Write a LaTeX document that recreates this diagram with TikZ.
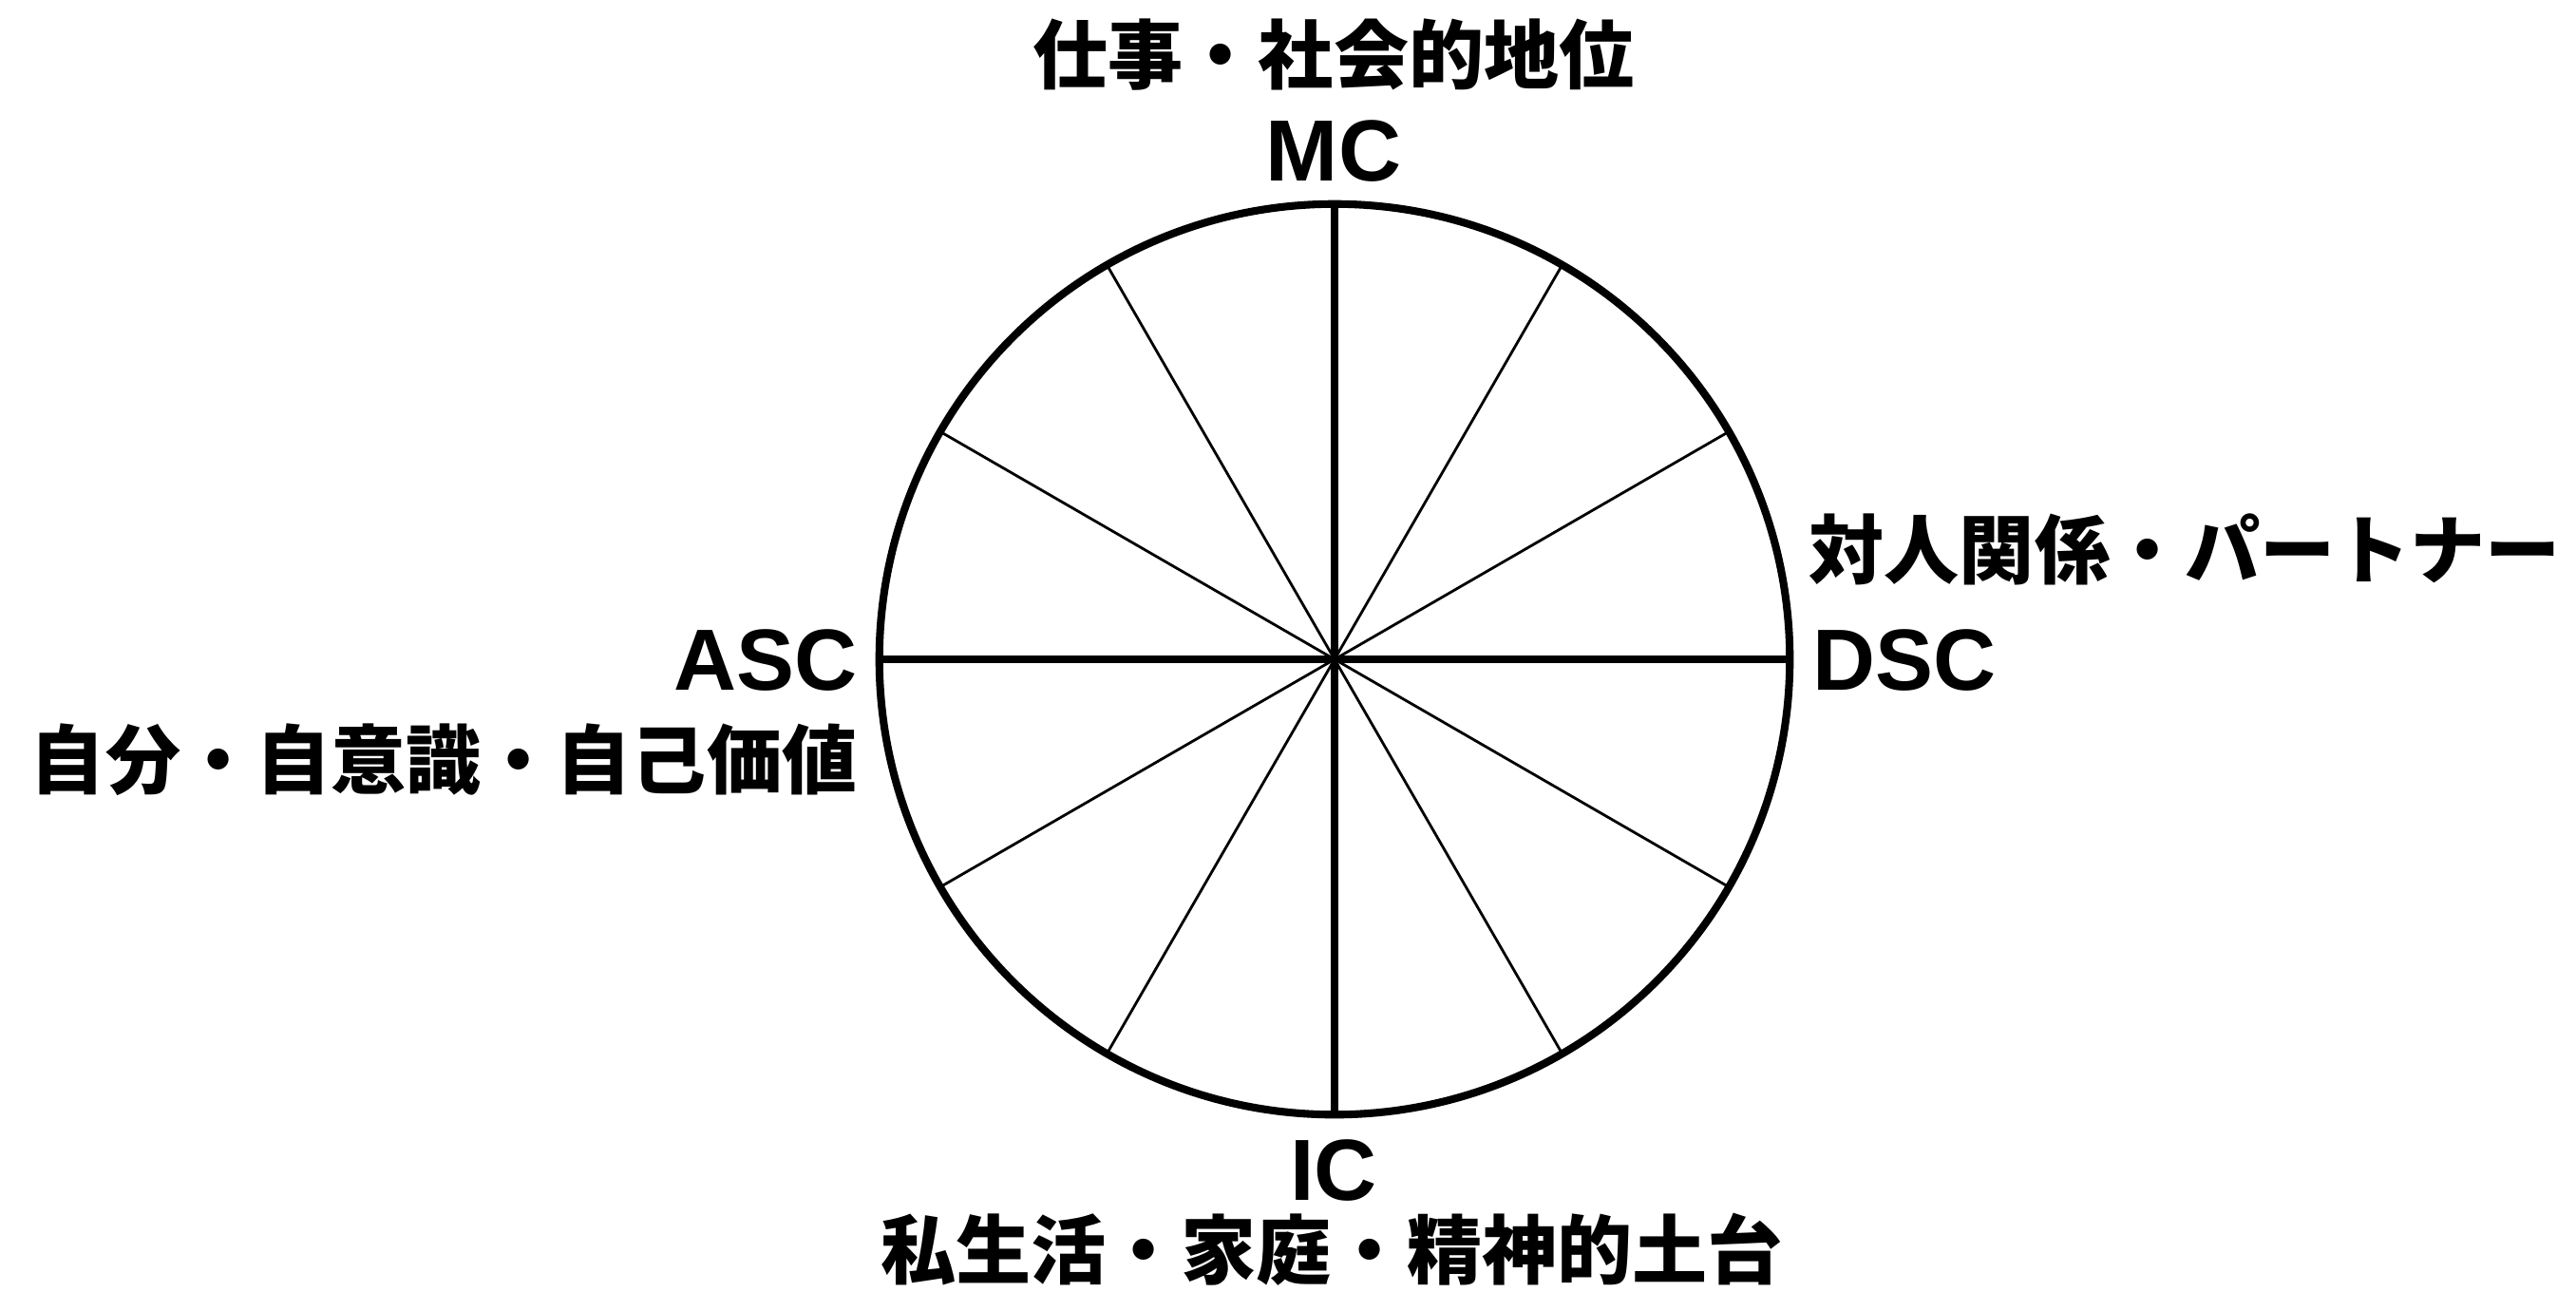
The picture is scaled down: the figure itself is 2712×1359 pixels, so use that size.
\documentclass[tikz,border=0pt]{standalone}
\usepackage{fontspec}
\setmainfont{Liberation Sans}
\newfontfamily\cjk{Noto Sans CJK JP}
\begin{document}
\begin{tikzpicture}[x=0.01cm,y=-0.01cm,
  lat/.style={inner sep=0pt, font=\fontsize{26pt}{31pt}\selectfont\bfseries},
  jp/.style={inner sep=0pt, font=\fontsize{22.5pt}{27pt}\selectfont\cjk\bfseries},
  spokethick/.style={line width=2.4pt},
  spokethin/.style={line width=0.8pt}]
\useasboundingbox[fill=white] (0,0) rectangle (2712,1359);
\node[circle, draw, line width=2.3pt, minimum size=9.58cm, inner sep=0pt, outer sep=0pt] (wheel) at (1405,694) {};
\coordinate (c) at (wheel.center);
\foreach \a in {30,60,120,150,210,240,300,330} {
  \draw[spokethin] (c) -- (wheel.\a);
}
\foreach \a in {0,90,180,270} {
  \draw[spokethick] (c) -- (wheel.\a);
}
\node[lat, anchor=base] (mc) at (1404,190) {MC};
\node[jp, anchor=center] (mct) at (1404,58) {仕事・社会的地位};
\node[lat, anchor=base east] (asc) at (903,726) {ASC};
\node[jp, anchor=east] (asct) at (903,800) {自分・自意識・自己価値};
\node[lat, anchor=base west] (dsc) at (1908,726) {DSC};
\node[jp, anchor=west] (dsct) at (1904,578) {対人関係・パートナー};
\node[lat, anchor=base] (ic) at (1404,1263) {IC};
\node[jp, anchor=center] (ict) at (1402,1315) {私生活・家庭・精神的土台};
\end{tikzpicture}
\end{document}
